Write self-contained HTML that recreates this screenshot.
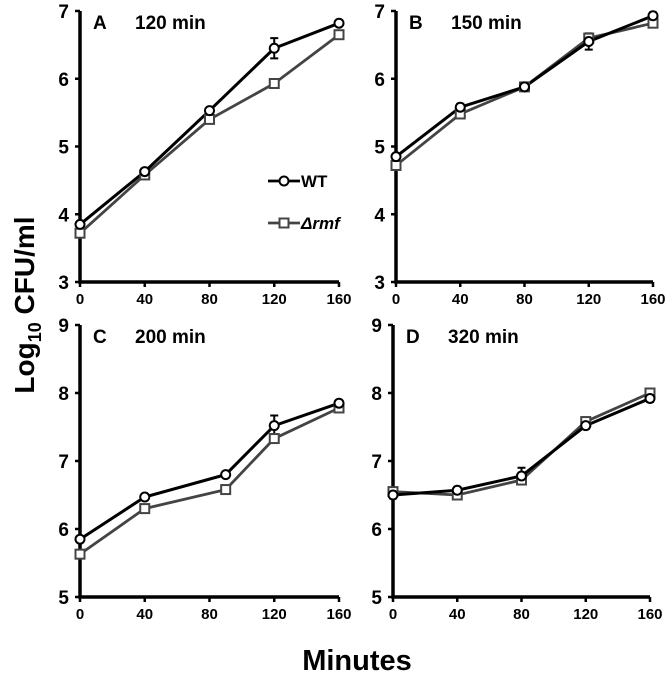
<!DOCTYPE html>
<html><head><meta charset="utf-8"><style>
body{margin:0;background:#fff}
svg text{font-family:"Liberation Sans",sans-serif;font-weight:bold}
</style></head><body>
<svg width="666" height="673" viewBox="0 0 666 673">
<g id="root"></g>
<text x="357" y="670" font-size="29" text-anchor="middle">Minutes</text>
<text transform="translate(34,305) rotate(-90)" font-size="28" text-anchor="middle">Log<tspan font-size="18" dy="7">10</tspan><tspan dy="-7"> CFU/ml</tspan></text>
<g>
<line x1="268" y1="181" x2="300" y2="181" stroke="#000" stroke-width="2.8"/>
<circle cx="284" cy="181" r="4.5" fill="#fff" stroke="#000" stroke-width="2"/>
<text x="301" y="187" font-size="17">WT</text>
<line x1="268" y1="223" x2="300" y2="223" stroke="#444" stroke-width="2.8"/>
<rect x="279.5" y="218.5" width="9" height="9" fill="#fff" stroke="#444" stroke-width="2"/>
<text x="301" y="229" font-size="17" font-style="italic">Δrmf</text>
</g>
</svg>
<script>
const xTicks=[0,40,80,120,160];
const panelLabels=["A","B","C","D"];
const panelTitles=["120 min","150 min","200 min","320 min"];
const yRangesTop=[3,7];
const yRangesBottom=[5,9];
const xA=[0,40,80,120,160];
const wtA=[3.85,4.63,5.53,6.45,6.82];
const rmfA=[3.72,4.58,5.40,5.93,6.65];
const errWtA=[0.03,0.03,0.03,0.15,0.03];
const xB=[0,40,80,120,160];
const wtB=[4.85,5.58,5.88,6.55,6.93];
const rmfB=[4.72,5.48,5.88,6.60,6.82];
const errWtB=[0.03,0.05,0.03,0.12,0.05];
const xC=[0,40,90,120,160];
const wtC=[5.85,6.47,6.80,7.52,7.85];
const rmfC=[5.63,6.30,6.58,7.33,7.78];
const errWtC=[0.03,0.03,0.03,0.15,0.03];
const xD=[0,40,80,120,160];
const wtD=[6.50,6.57,6.78,7.52,7.92];
const rmfD=[6.55,6.50,6.72,7.58,8.00];
const errWtD=[0.05,0.05,0.12,0.05,0.05];

const NS="http://www.w3.org/2000/svg";
const root=document.getElementById('root');
function mk(tag,attrs,parent){const e=document.createElementNS(NS,tag);for(const k in attrs)e.setAttribute(k,attrs[k]);parent.appendChild(e);return e;}
const panels=[
 {x0:80,x1:339,yT:11,yB:282,yr:yRangesTop,xs:xA,wt:wtA,rmf:rmfA,err:errWtA},
 {x0:396,x1:653,yT:11,yB:282,yr:yRangesTop,xs:xB,wt:wtB,rmf:rmfB,err:errWtB},
 {x0:80,x1:339,yT:325,yB:597,yr:yRangesBottom,xs:xC,wt:wtC,rmf:rmfC,err:errWtC},
 {x0:393,x1:650,yT:325,yB:597,yr:yRangesBottom,xs:xD,wt:wtD,rmf:rmfD,err:errWtD}];
panels.forEach((p,i)=>{
 const g=mk('g',{},root);
 
 
 const sx=v=>p.x0+(v-0)/(160)*(p.x1-p.x0);
 const sy=v=>p.yB-(v-p.yr[0])/(p.yr[1]-p.yr[0])*(p.yB-p.yT);
 const ax=mk('path',{d:`M${p.x0},${p.yT} V${p.yB} H${p.x1}`,fill:'none',stroke:'#000','stroke-width':3.5},g);
 
 
 xTicks.forEach(t=>{
  mk('line',{x1:sx(t),x2:sx(t),y1:p.yB,y2:p.yB+5,stroke:'#000','stroke-width':2.5},g);
  const tx=mk('text',{x:sx(t),y:p.yB+22,'font-size':15,'text-anchor':'middle'},g);tx.textContent=t;
  
  
 });
 for(let v=p.yr[0];v<=p.yr[1];v++){
  mk('line',{x1:p.x0-5,x2:p.x0,y1:sy(v),y2:sy(v),stroke:'#000','stroke-width':2.5},g);
  const tx=mk('text',{x:p.x0-11,y:sy(v)+7,'font-size':19,'text-anchor':'end'},g);tx.textContent=v;
  
  
 }
 const lb=mk('text',{x:p.x0+13,y:p.yT+18,'font-size':19},g);lb.textContent=panelLabels[i];
 
 
 const tt=mk('text',{x:p.x0+55,y:p.yT+18,'font-size':19},g);tt.textContent=panelTitles[i];
 
 
 const pr=mk('polyline',{points:p.xs.map((x,j)=>sx(x)+','+sy(p.rmf[j])).join(' '),fill:'none',stroke:'#444','stroke-width':2.8},g);
 
 
 const pw=mk('polyline',{points:p.xs.map((x,j)=>sx(x)+','+sy(p.wt[j])).join(' '),fill:'none',stroke:'#000','stroke-width':3},g);
 
 
 p.xs.forEach((x,j)=>{
  const e=p.err[j];
  mk('path',{d:`M${sx(x)},${sy(p.wt[j]+e)} V${sy(p.wt[j]-e)} M${sx(x)-4},${sy(p.wt[j]+e)} h8 M${sx(x)-4},${sy(p.wt[j]-e)} h8`,stroke:'#000','stroke-width':2,fill:'none'},g);
  const r=mk('rect',{x:sx(x)-4.5,y:sy(p.rmf[j])-4.5,width:9,height:9,fill:'#fff',stroke:'#444','stroke-width':2},g);
  
  
  const c=mk('circle',{cx:sx(x),cy:sy(p.wt[j]),r:4.5,fill:'#fff',stroke:'#000','stroke-width':2},g);
  
  
 });
});
</script>
</body></html>
